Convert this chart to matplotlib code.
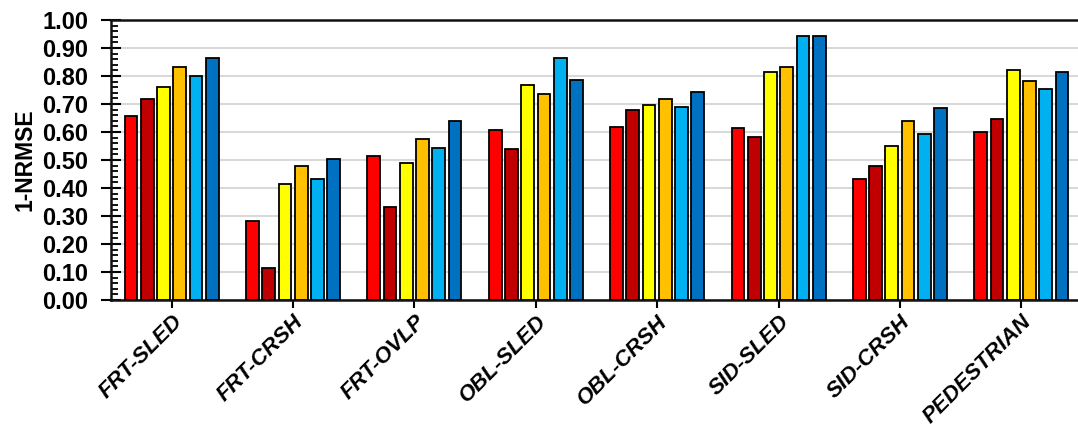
import matplotlib
matplotlib.use("Agg")
import matplotlib.pyplot as plt
import numpy as np
from matplotlib.ticker import MultipleLocator, FormatStrFormatter

categories = ["FRT-SLED", "FRT-CRSH", "FRT-OVLP", "OBL-SLED",
              "OBL-CRSH", "SID-SLED", "SID-CRSH", "PEDESTRIAN"]

series_1 = [0.658, 0.283, 0.515, 0.606, 0.619, 0.613, 0.432, 0.600]
series_2 = [0.717, 0.115, 0.333, 0.540, 0.677, 0.581, 0.477, 0.646]
series_3 = [0.762, 0.413, 0.490, 0.768, 0.696, 0.813, 0.549, 0.820]
series_4 = [0.833, 0.477, 0.574, 0.736, 0.717, 0.833, 0.639, 0.782]
series_5 = [0.800, 0.431, 0.542, 0.865, 0.690, 0.943, 0.594, 0.755]
series_6 = [0.865, 0.502, 0.638, 0.787, 0.742, 0.943, 0.685, 0.814]

series = [series_1, series_2, series_3, series_4, series_5, series_6]
colors = ["#FF0000", "#C00000", "#FFFF00", "#FFC000", "#00B0F0", "#0070C0"]

plt.rcParams["font.family"] = ["Liberation Sans", "DejaVu Sans"]

fig = plt.figure(figsize=(10.78, 4.28), dpi=100)
ax = fig.add_axes([111 / 1078, 1 - 300 / 428, 971 / 1078, 280 / 428])

x = np.arange(len(categories))
pitch = 0.134
width = 0.105
for i, (vals, c) in enumerate(zip(series, colors)):
    ax.bar(x + (i - 2.5) * pitch, vals, width=width, color=c,
           edgecolor="black", linewidth=1.3, zorder=3)

ax.set_xlim(-0.5, len(categories) - 0.5)
ax.set_ylim(0, 1.0)

ax.yaxis.set_major_locator(MultipleLocator(0.1))
ax.yaxis.set_minor_locator(MultipleLocator(0.02))
ax.yaxis.set_major_formatter(FormatStrFormatter("%.2f"))
ax.grid(axis="y", which="major", color="#D9D9D9", linewidth=1.5, zorder=0)

ax.tick_params(axis="y", which="major", direction="inout", length=15,
               width=1.5, labelsize=17, pad=9)
ax.tick_params(axis="y", which="minor", direction="in", length=5, width=1.3)
ax.tick_params(axis="x", which="major", direction="out", length=6, width=1.5)

for lab in ax.get_yticklabels():
    lab.set_fontweight("bold")

ax.set_xticks(x)
ax.set_xticklabels(categories, rotation=45, ha="right",
                   rotation_mode="anchor", fontsize=16,
                   fontweight="bold", fontstyle="italic")
ax.tick_params(axis="x", pad=2)

ax.set_ylabel("1-NRMSE", fontsize=16.5, fontweight="bold", labelpad=4)

for side in ["left", "bottom", "top"]:
    ax.spines[side].set_linewidth(1.8)
    ax.spines[side].set_color("#111111")
ax.spines["right"].set_visible(False)

fig.savefig("out.png", dpi=100)
